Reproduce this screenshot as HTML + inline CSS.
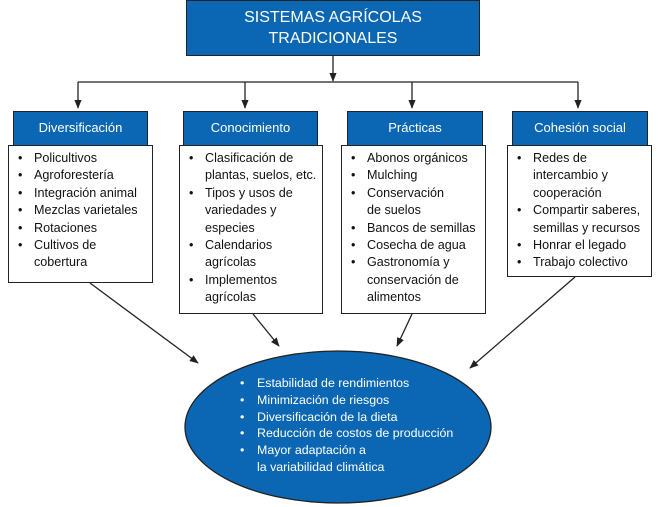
<!DOCTYPE html>
<html><head><meta charset="utf-8"><style>
body{margin:0;width:672px;height:507px;background:#fff;position:relative;overflow:hidden;font-family:"Liberation Sans",sans-serif}
.b{position:absolute;box-sizing:border-box}
.hd{background:#0b67b3;border:1.5px solid #222;color:#fff;font-size:13px;text-align:center;line-height:32px;border-bottom:none}
.bx{background:#fff;border:1.5px solid #222}
ul{margin:0;padding:0;list-style:none}
li{position:relative;padding-left:25px;font-size:12.6px;line-height:17.4px;color:#111;white-space:nowrap}
li:before{content:"•";position:absolute;left:9px;top:0;line-height:inherit;font-size:inherit}
.el li{color:#fff;font-size:12.4px;line-height:16.8px}
.el li:before{left:8px}
</style></head><body>
<svg class="b" style="left:0;top:0" width="672" height="507">
<defs><marker id="a" viewBox="0 0 10 10" refX="9" refY="5" markerWidth="7" markerHeight="7" orient="auto"><path d="M0,1L10,5L0,9z" fill="#222"/></marker></defs>
<g stroke="#222" stroke-width="1.3" fill="none">
<line x1="333" y1="56" x2="333" y2="81" marker-end="url(#a)"/>
<line x1="78" y1="82" x2="578" y2="82"/>
<line x1="78" y1="82" x2="78" y2="108" marker-end="url(#a)"/>
<line x1="245" y1="82" x2="245" y2="108" marker-end="url(#a)"/>
<line x1="412" y1="82" x2="412" y2="108" marker-end="url(#a)"/>
<line x1="578" y1="82" x2="578" y2="108" marker-end="url(#a)"/>
<line x1="90" y1="283" x2="198" y2="363" marker-end="url(#a)"/>
<line x1="253" y1="314" x2="279" y2="346" marker-end="url(#a)"/>
<line x1="412" y1="314" x2="397" y2="346" marker-end="url(#a)"/>
<line x1="575" y1="277" x2="470" y2="368" marker-end="url(#a)"/>
</g>
<ellipse cx="338" cy="427" rx="153" ry="76" fill="#0b67b3" stroke="#222" stroke-width="1.3"/>
</svg>
<div class="b hd" style="left:186px;top:0;width:294px;height:56px;border-bottom:1.5px solid #222;font-size:16px;line-height:21px;padding-top:6px">SISTEMAS AGRÍCOLAS<br>TRADICIONALES</div>

<div class="b hd" style="left:13px;top:111px;width:135px;height:34px">Diversificación</div>
<div class="b bx" style="left:8px;top:145px;width:145px;height:138px;padding-top:4px"><ul><li>Policultivos</li><li>Agroforestería</li><li>Integración animal</li><li>Mezclas varietales</li><li>Rotaciones</li><li>Cultivos de<br>cobertura</li></ul></div>

<div class="b hd" style="left:183px;top:111px;width:135px;height:34px">Conocimiento</div>
<div class="b bx" style="left:179px;top:145px;width:144px;height:169px;padding-top:4px"><ul><li>Clasificación de<br>plantas, suelos, etc.</li><li>Tipos y usos de<br>variedades y<br>especies</li><li>Calendarios<br>agrícolas</li><li>Implementos<br>agrícolas</li></ul></div>

<div class="b hd" style="left:347px;top:111px;width:136px;height:34px">Prácticas</div>
<div class="b bx" style="left:341px;top:145px;width:145px;height:169px;padding-top:4px"><ul><li>Abonos orgánicos</li><li>Mulching</li><li>Conservación<br>de suelos</li><li>Bancos de semillas</li><li>Cosecha de agua</li><li>Gastronomía y<br>conservación de<br>alimentos</li></ul></div>

<div class="b hd" style="left:512px;top:111px;width:136px;height:34px">Cohesión social</div>
<div class="b bx" style="left:507px;top:145px;width:145px;height:132px;padding-top:4px"><ul><li>Redes de<br>intercambio y<br>cooperación</li><li>Compartir saberes,<br>semillas y recursos</li><li>Honrar el legado</li><li>Trabajo colectivo</li></ul></div>

<div class="b el" style="left:232px;top:375px"><ul><li>Estabilidad de rendimientos</li><li>Minimización de riesgos</li><li>Diversificación de la dieta</li><li>Reducción de costos de producción</li><li>Mayor adaptación a<br>la variabilidad climática</li></ul></div>
</body></html>
